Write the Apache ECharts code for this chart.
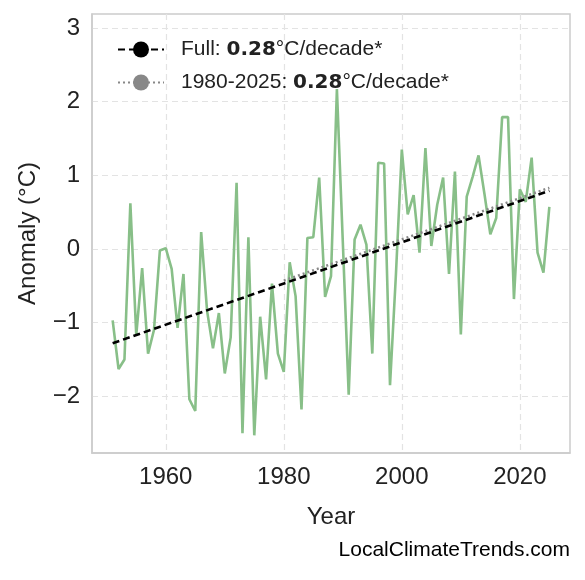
<!DOCTYPE html>
<html>
<head>
<meta charset="utf-8">
<script src="https://cdn.jsdelivr.net/npm/echarts@6/dist/echarts.min.js"></script>
<style>html,body{margin:0;padding:0;background:#fff}#chart{width:585px;height:580px}</style>
</head>
<body>
<div id="chart"></div>
<script>
// 年份与距平值
var years = [];
for (var y = 1951; y <= 2025; y++) years.push(y);
var anomalies = [
    -0.97,-1.63,-1.50,0.62,-1.17,-0.26,-1.42,-1.10,-0.02,0.01,
    -0.27,-1.07,-0.34,-2.04,-2.20,0.23,-0.84,-1.35,-0.87,-1.69,
    -1.20,0.90,-2.50,0.16,-2.53,-0.92,-1.77,-0.47,-1.42,-1.67,
    -0.18,-0.64,-2.18,0.15,0.16,0.97,-0.65,-0.37,2.17,0.10,
    -1.98,0.13,0.33,0.06,-1.42,1.17,1.16,-1.85,-0.35,1.35,
    0.47,0.73,-0.05,1.37,0.04,0.60,0.97,-0.34,1.05,-1.16,
    0.71,0.98,1.27,0.75,0.20,0.42,1.79,1.79,-0.68,0.81,
    0.64,1.24,-0.05,-0.32,0.57
];
// 趋势线端点
var fullTrend = [[1951,-1.28],[2025,0.79]];
var recentTrend = [[1980,-0.43],[2025,0.83]];
var xTicks = [1960,1980,2000,2020];
var yTicks = [-2,-1,0,1,2,3];

var font = 'Liberation Sans, Arial, sans-serif';
var seriesData = years.map(function(y,i){ return [y, anomalies[i]]; });
var myChart = echarts.init(document.getElementById('chart'));
var option = {
    animation: false,
    grid: { left: 92, right: 15, top: 14, bottom: 127 },
    legend: {
        left: 112, top: 34, orient: 'vertical', itemGap: 12,
        itemWidth: 46, itemHeight: 20,
        data: ['Full','Recent'],
        formatter: function(name) {
            return name === 'Full' ? 'Full: {b|0.28}°C/decade*' : '1980-2025: {b|0.28}°C/decade*';
        },
        textStyle: {
            fontFamily: font, fontSize: 21, color: '#222', padding: [0,0,0,12],
            rich: { b: { fontFamily: 'DejaVu Sans', fontSize: 20, fontWeight: 'bold', color: '#222' } }
        }
    },
    xAxis: {
        type: 'value', min: 1947.5, max: 2028.5,
        name: 'Year', nameLocation: 'middle', nameGap: 52,
        nameTextStyle: { fontFamily: font, fontSize: 24, color: '#222' },
        axisLine: { show: true, onZero: false, lineStyle: { color: '#ccc', width: 1.5 } },
        axisTick: { show: false, customValues: xTicks },
        axisLabel: { customValues: xTicks, fontFamily: font, fontSize: 24, color: '#222', margin: 12,
            formatter: function(v){ return String(v); } },
        splitLine: { show: true, lineStyle: { color: '#e3e3e3', type: [6,4], width: 1.2 } }
    },
    yAxis: {
        type: 'value', min: -2.77, max: 3.19,
        name: 'Anomaly (°C)', nameLocation: 'middle', nameGap: 52,
        nameTextStyle: { fontFamily: font, fontSize: 24, color: '#222' },
        axisLine: { show: true, lineStyle: { color: '#ccc', width: 1.5 } },
        axisTick: { show: false, customValues: yTicks },
        axisLabel: { customValues: yTicks, fontFamily: font, fontSize: 24, color: '#222', margin: 12,
            formatter: function(v){ return String(v).replace('-', '\u2212'); } },
        splitLine: { show: true, lineStyle: { color: '#e3e3e3', type: [6,4], width: 1.2 } }
    },
    graphic: [
        { type: 'rect', shape: { x: 92, y: 14, width: 478, height: 439 }, style: { fill: 'none', stroke: '#ccc', lineWidth: 1.5 }, silent: true },
        { type: 'text', right: 15, top: 540, style: { text: 'LocalClimateTrends.com', font: '21px "Liberation Sans", Arial', fill: '#000' } }
    ],
    series: [{
        name: 'Anomaly', type: 'line', data: seriesData, symbol: 'none',
        lineStyle: { color: '#88bf88', width: 2.6 }, z: 2
    },{
        name: 'Recent', type: 'line', data: recentTrend, symbol: 'none',
        lineStyle: { color: '#888', width: 2.5, type: [2,3] }, itemStyle: { color: '#888' }, z: 3
    },{
        name: 'Full', type: 'line', data: fullTrend, symbol: 'none',
        lineStyle: { color: '#000', width: 2.6, type: [7,4] }, itemStyle: { color: '#000' }, z: 4
    }]
};
myChart.setOption(option);
</script>
</body>
</html>
